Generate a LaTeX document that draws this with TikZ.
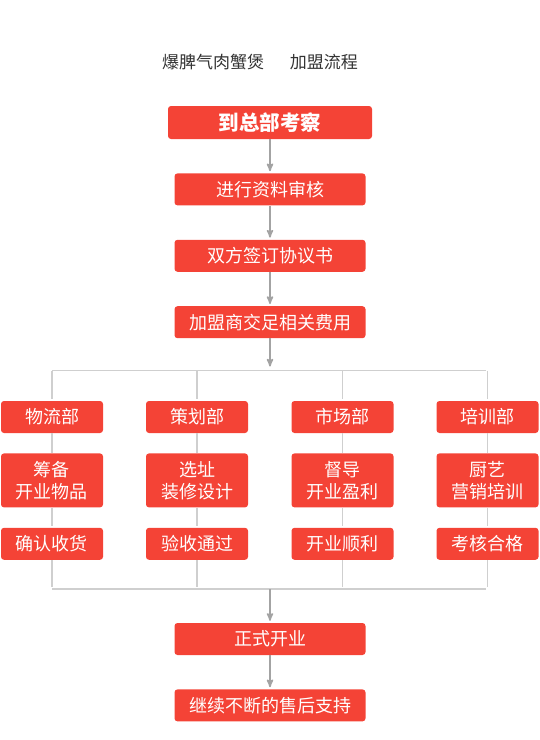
\documentclass[tikz,border=0pt]{standalone}
\usepackage{fontspec}
\setmainfont{Noto Sans CJK SC}
\usetikzlibrary{arrows,positioning}
\definecolor{boxred}{HTML}{F44336}
\definecolor{linegray}{HTML}{CFCFCF}
\definecolor{arrowgray}{HTML}{A3A3A3}
\definecolor{titlegray}{HTML}{333333}

\begin{document}
\begin{tikzpicture}[x=1pt,y=-1pt,>=stealth',shorten >=2pt,node distance=34pt,
  main box/.style={rectangle,rounded corners=3pt,fill=boxred,text=white,
    minimum width=191pt,minimum height=32pt,inner sep=0pt,align=center,
    font=\fontsize{18}{22}\selectfont},
  dept box/.style={main box,minimum width=102pt},
  flow/.style={->,draw=arrowgray,line width=1.6pt},
  link/.style={draw=linegray,line width=1.4pt}]

  \useasboundingbox (0,0) rectangle (540,740);

  \node[text=titlegray,font=\fontsize{17}{20}\selectfont] (title) at (260,62) {爆脾气肉蟹煲\hspace{26pt}加盟流程};

  % main steps
  \node[main box,minimum width=204pt,minimum height=33pt,font=\bfseries\fontsize{20.5}{24}\selectfont] (visit) at (270,122.5) {到总部考察};
  \node[main box] (review) [below=of visit] {进行资料审核};
  \node[main box] (sign) [below=of review] {双方签订协议书};
  \node[main box] (fee) [below=of sign] {加盟商交足相关费用};

  % departments
  \node[dept box] (logis) at (52,417) {物流部};
  \node[dept box,minimum height=54pt] (logisprep) [below=20pt of logis] {筹备\\开业物品};
  \node[dept box] (logisok) [below=20pt of logisprep] {确认收货};

  \node[dept box] (plan) at (197,417) {策划部};
  \node[dept box,minimum height=54pt] (plansite) [below=20pt of plan] {选址\\装修设计};
  \node[dept box] (planok) [below=20pt of plansite] {验收通过};

  \node[dept box] (market) at (342.5,417) {市场部};
  \node[dept box,minimum height=54pt] (marketguide) [below=20pt of market] {督导\\开业盈利};
  \node[dept box] (marketok) [below=20pt of marketguide] {开业顺利};

  \node[dept box] (train) at (487.5,417) {培训部};
  \node[dept box,minimum height=54pt] (traincook) [below=20pt of train] {厨艺\\营销培训};
  \node[dept box] (trainok) [below=20pt of traincook] {考核合格};

  % final steps
  \node[main box] (open) at (270,639) {正式开业};
  \node[main box] (support) [below=of open] {继续不断的售后支持};

  \coordinate (split) at (270,370.5);
  \coordinate (merge) at (270,589);

  \draw[flow] (visit) -- (review);
  \draw[flow] (review) -- (sign);
  \draw[flow] (sign) -- (fee);
  \draw[flow,shorten >=4pt] (fee) -- (split);

  \draw[link] (logis.north |- split) -- (train.north |- split);
  \draw[link] (logis.north |- split) -- (logis.north);
  \draw[link] (plan.north |- split) -- (plan.north);
  \draw[link] (market.north |- split) -- (market.north);
  \draw[link] (train.north |- split) -- (train.north);

  \draw[link] (logis) -- (logisprep) (logisprep) -- (logisok);
  \draw[link] (plan) -- (plansite) (plansite) -- (planok);
  \draw[link] (market) -- (marketguide) (marketguide) -- (marketok);
  \draw[link] (train) -- (traincook) (traincook) -- (trainok);

  \draw[link] (logisok.south) -- (logisok.south |- merge);
  \draw[link] (planok.south) -- (planok.south |- merge);
  \draw[link] (marketok.south) -- (marketok.south |- merge);
  \draw[link] (trainok.south) -- (trainok.south |- merge);
  \draw[link] (logisok.south |- merge) -- (trainok.south |- merge);

  \draw[flow] (merge) -- (open);
  \draw[flow] (open) -- (support);
\end{tikzpicture}
\end{document}
